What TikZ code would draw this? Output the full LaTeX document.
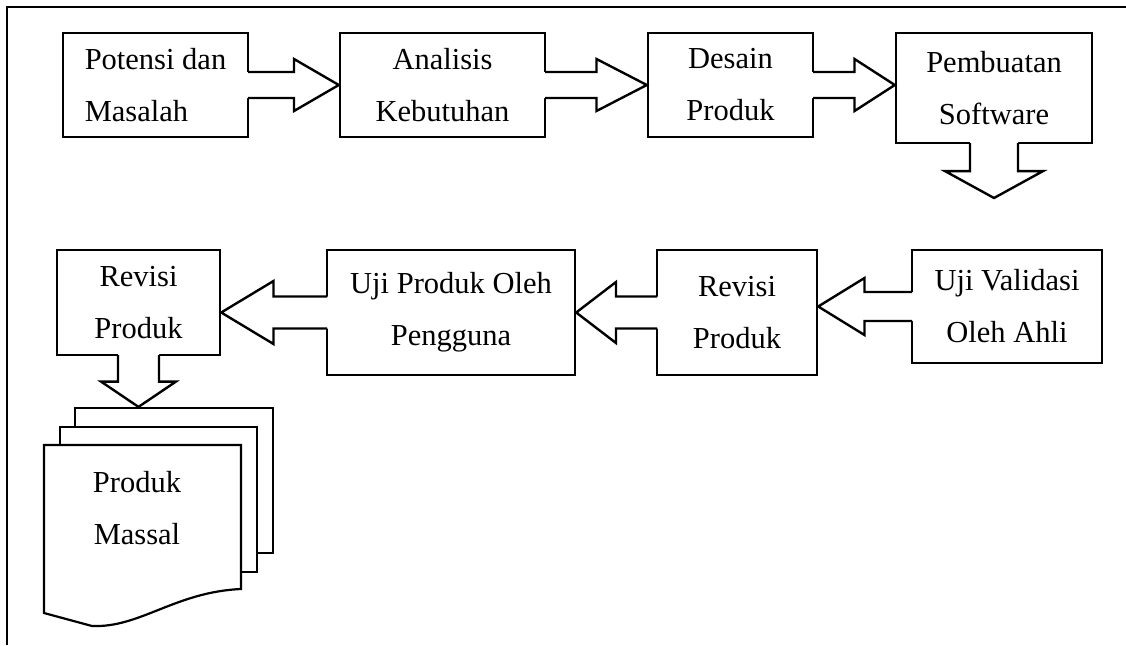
\documentclass[tikz,border=0pt]{standalone}
\usepackage{fontspec}
\setmainfont{Liberation Serif}
\usetikzlibrary{calc}

\tikzset{
  stage/.style={draw, line width=2.4pt, fill=white, align=center, inner sep=0pt},
  flow/.style={line width=2.4pt, line cap=rect},
  sheet/.style={draw, line width=2.2pt, fill=white, inner sep=0pt}
}

% block arrow: shaft half width, head half width, from, tip
\newcommand{\blockarrow}[4]{%
  \coordinate (ba-s) at #3;
  \coordinate (ba-t) at #4;
  \coordinate (ba-m) at ($(ba-s)!0.5!(ba-t)$);
  \coordinate (ba-b) at ($(ba-s)!-2.5pt!(ba-t)$);
  \fill[white] ($(ba-b)!#1!90:(ba-t)$) -- ($(ba-m)!#1!90:(ba-t)$)
    -- ($(ba-m)!#2!90:(ba-t)$) -- (ba-t) -- ($(ba-m)!#2!-90:(ba-t)$)
    -- ($(ba-m)!#1!-90:(ba-t)$) -- ($(ba-b)!#1!-90:(ba-t)$) -- cycle;
  \draw[flow] ($(ba-s)!#1!90:(ba-t)$) -- ($(ba-m)!#1!90:(ba-t)$)
    -- ($(ba-m)!#2!90:(ba-t)$) -- (ba-t) -- ($(ba-m)!#2!-90:(ba-t)$)
    -- ($(ba-m)!#1!-90:(ba-t)$) -- ($(ba-s)!#1!-90:(ba-t)$);
}

\begin{document}
\begin{tikzpicture}[x=1pt, y=-1pt, font=\fontsize{30.5}{52}\selectfont]
  \useasboundingbox (0,0) rectangle (1126,645);
  \draw[line width=1.8pt] (7,645) -- (7,7) -- (1126,7);

  % top row
  \node[stage, align=left, minimum width=185pt, minimum height=104pt] (potensi) at (155.5,85) {Potensi dan\\Masalah};
  \node[stage, minimum width=205pt, minimum height=104pt] (analisis) at (442.5,85) {Analisis\\Kebutuhan};
  \node[stage, minimum width=165pt, minimum height=104pt] (desain) at (730.5,85) {Desain\\Produk};
  \node[stage, minimum width=196pt, minimum height=110pt] (software) at (994,88) {Pembuatan\\Software};
  \coordinate (next) at (994,198);

  % bottom row
  \node[stage, minimum width=190pt, minimum height=113pt] (validasi) at (1007,306.5) {Uji Validasi\\Oleh Ahli};
  \node[stage, minimum width=160pt, minimum height=125pt] (revisi) at (737,312.5) {Revisi\\Produk};
  \node[stage, minimum width=248pt, minimum height=125pt] (ujiproduk) at (451,312.5) {Uji Produk Oleh\\Pengguna};
  \node[stage, minimum width=163pt, minimum height=105pt] (revisi2) at (138.5,302.5) {Revisi\\Produk};

  % stack of documents
  \node[sheet, minimum width=198pt, minimum height=145pt] (sheet3) at (174,480.5) {};
  \node[sheet, minimum width=197pt, minimum height=145pt] (sheet2) at (158.5,499.5) {};
  \filldraw[fill=white, line width=2.2pt] (44,445) -- (241,445) -- (241,589)
    .. controls (175,592) and (140,628) .. (92,626) -- (44,613) -- cycle;
  \node[align=center, inner sep=0pt] (massal) at (137,508) {Produk\\Massal};

  % arrows
  \blockarrow{13pt}{26pt}{(potensi.east)}{(analisis.west)}
  \blockarrow{13pt}{26pt}{(analisis.east)}{(desain.west)}
  \blockarrow{13pt}{26pt}{(desain.east)}{(software.west |- desain.east)}
  \blockarrow{24pt}{49pt}{(software.south)}{(next)}
  \blockarrow{14.5pt}{28.5pt}{(validasi.west)}{(revisi.east |- validasi.west)}
  \blockarrow{16pt}{30.5pt}{(revisi.west)}{(ujiproduk.east |- revisi.west)}
  \blockarrow{16pt}{31.5pt}{(ujiproduk.west)}{(revisi2.east |- ujiproduk.west)}
  \blockarrow{20.5pt}{37.5pt}{(revisi2.south)}{(revisi2.south |- sheet3.north)}
\end{tikzpicture}
\end{document}
